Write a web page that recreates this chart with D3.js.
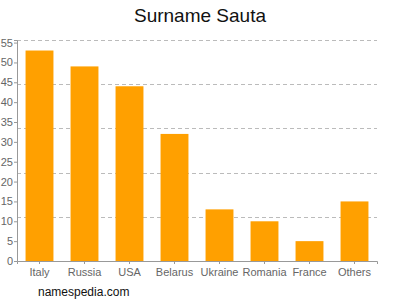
<!DOCTYPE html>
<html>
<head>
<meta charset="utf-8">
<script src="https://cdn.jsdelivr.net/npm/d3@7"></script>
<style>
  body { margin: 0; background: #fff; }
  svg { font-family: "Liberation Sans", Arial, sans-serif; }
</style>
</head>
<body>
<div id="container"></div>
<script>
// chart data
const countries = ["Italy", "Russia", "USA", "Belarus", "Ukraine", "Romania", "France", "Others"];
const counts = [53, 49, 44, 32, 13, 10, 5, 15];
const yTicks = [0, 5, 10, 15, 20, 25, 30, 35, 40, 45, 50, 55];

const WIDTH = 400;
const HEIGHT = 300;
const margin = { top: 40, right: 23, bottom: 39, left: 17 };
const plotW = WIDTH - margin.left - margin.right;
const plotH = HEIGHT - margin.top - margin.bottom;

const svg = d3.select("#container")
    .append("svg")
    .attr("width", WIDTH)
    .attr("height", HEIGHT);

// title
svg.append("text")
    .attr("x", WIDTH / 2)
    .attr("y", 22)
    .attr("text-anchor", "middle")
    .style("font-size", "19px")
    .style("fill", "#111")
    .text("Surname Sauta");

const g = svg.append("g")
    .attr("transform", "translate(" + margin.left + "," + margin.top + ")");

const yMax = d3.max(counts) * 1.05;

const xScale = d3.scaleBand()
    .domain(countries)
    .range([0, plotW])
    .paddingInner(0.38)
    .paddingOuter(0.19);

const yScale = d3.scaleLinear()
    .domain([0, yMax])
    .range([plotH, 0]);

// dashed grid lines, 5 even divisions of the range
const gridVals = d3.range(1, 6).map((i) => yMax * i / 5);
g.selectAll(".grid")
    .data(gridVals)
    .enter()
    .append("line")
    .attr("class", "grid")
    .attr("x1", 0)
    .attr("x2", plotW)
    .attr("y1", (d) => Math.round(yScale(d)) + 0.5)
    .attr("y2", (d) => Math.round(yScale(d)) + 0.5)
    .style("stroke", "#bbb")
    .style("stroke-dasharray", "4,3");

// bars
g.selectAll("rect")
    .data(counts)
    .enter()
    .append("rect")
    .attr("x", (d, i) => xScale(countries[i]))
    .attr("y", (d) => yScale(d))
    .attr("width", xScale.bandwidth())
    .attr("height", (d) => plotH - yScale(d))
    .style("fill", "#ffa000");

// y axis
const leftAxis = d3.axisLeft(yScale)
    .tickValues(yTicks)
    .tickSize(3)
    .tickPadding(1);

const yAxisG = g.append("g").call(leftAxis);

// x axis
const bottomAxis = d3.axisBottom(xScale)
    .tickSize(3)
    .tickPadding(4);

const xAxisG = g.append("g")
    .attr("transform", "translate(0," + plotH + ")")
    .call(bottomAxis);

[yAxisG, xAxisG].forEach((ax) => {
    ax.select(".domain").style("stroke", "#999");
    ax.selectAll(".tick line").style("stroke", "#999");
    ax.selectAll(".tick text")
        .style("fill", "#666")
        .style("font-size", "11px")
        .style("font-family", "\"Liberation Sans\", Arial, sans-serif");
});

// footer
svg.append("text")
    .attr("x", 38)
    .attr("y", 296)
    .style("font-size", "12px")
    .style("fill", "#111")
    .text("namespedia.com");
</script>
</body>
</html>
